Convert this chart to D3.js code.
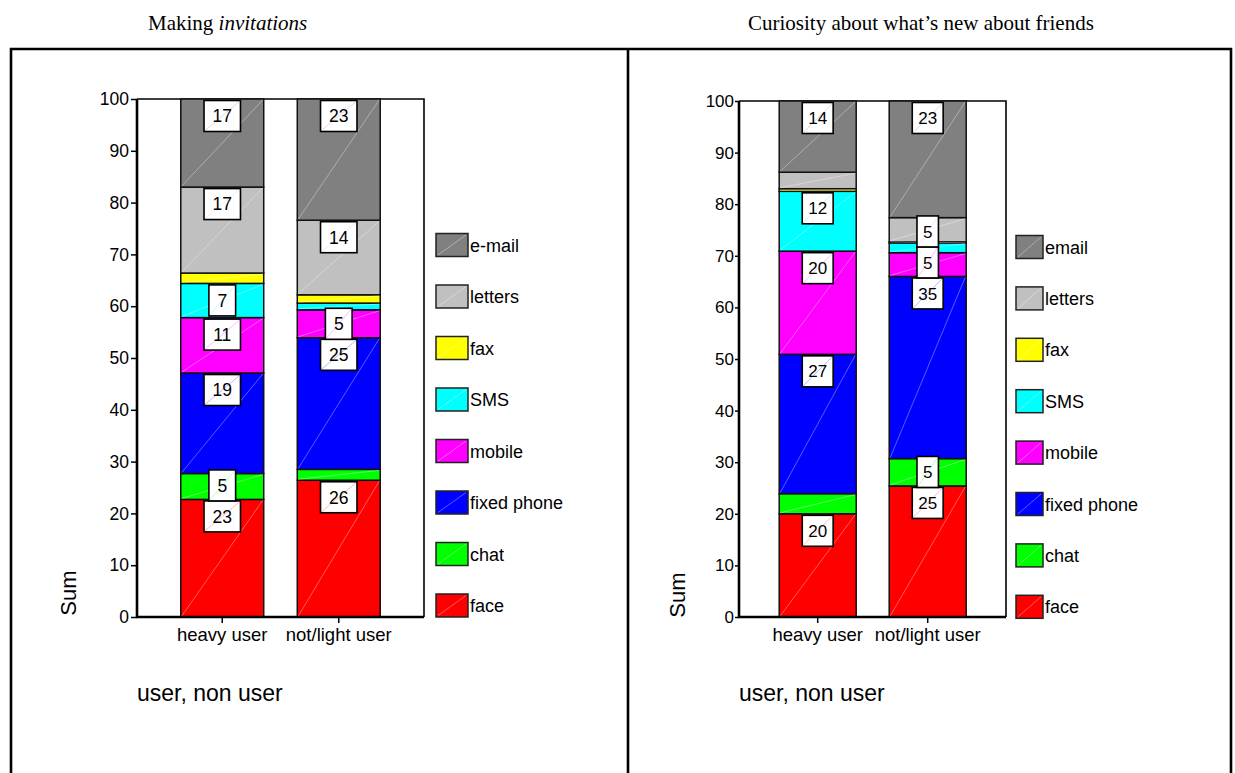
<!DOCTYPE html>
<html>
<head>
<meta charset="utf-8">
<script src="https://cdn.jsdelivr.net/npm/d3@7"></script>
<style>
  html, body { margin: 0; padding: 0; background: #fff; }
  svg { display: block; }
  text { font-family: "Liberation Sans", Arial, sans-serif; fill: #000; }
  .title { font-family: "Liberation Serif", "Times New Roman", serif; font-size: 21px; }
</style>
</head>
<body>
<svg id="chart" width="1235" height="773"></svg>
<script>
// Categories on the x axis
const categories = ["heavy user", "not/light user"];

// Series, stacked from the bottom up
const seriesInvitations = ["face", "chat", "fixed phone", "mobile", "SMS", "fax", "letters", "e-mail"];
const seriesCuriosity   = ["face", "chat", "fixed phone", "mobile", "SMS", "fax", "letters", "email"];
const seriesColors = ["#ff0000", "#00ff00", "#0000ff", "#ff00ff", "#00ffff", "#ffff00", "#c0c0c0", "#808080"];

// Percent shares per category (same order as the series)
const invitationsHeavy = [22.7, 5.0, 19.4, 10.7, 6.6, 2.0, 16.6, 17.0];
const invitationsLight = [26.4, 2.1, 25.4, 5.4, 1.3, 1.6, 14.4, 23.4];
const curiosityHeavy   = [20.0, 3.9, 27.0, 20.0, 11.6, 0.5, 3.2, 13.8];
const curiosityLight   = [25.4, 5.3, 35.3, 4.6, 1.9, 0.2, 4.7, 22.6];

// Axis ticks
const yTicks = [0, 10, 20, 30, 40, 50, 60, 70, 80, 90, 100];

const svg = d3.select("#chart");

// Outer frame with the two panels
const frameTop = 49;
svg.append("path")
  .attr("d", `M11,800 V${frameTop} H1231 V800 M628,${frameTop} V800`)
  .attr("fill", "none").attr("stroke", "#000").attr("stroke-width", 2.6);

// Panel titles
const t1 = svg.append("text").attr("class", "title").attr("x", 148).attr("y", 30);
t1.append("tspan").text("Making ");
t1.append("tspan").attr("font-style", "italic").text("invitations");
svg.append("text").attr("class", "title").attr("x", 748).attr("y", 30)
  .text("Curiosity about what\u2019s new about friends");

function drawPanel(cfg) {
  const g = svg.append("g");
  const y = d3.scaleLinear().domain([0, 100]).range([cfg.y0, cfg.y100]);
  const x = d3.scaleBand().domain(categories).range(cfg.bandRange);
  const barW = x.bandwidth() * cfg.barFrac;
  const barX = c => x(c) + (x.bandwidth() - barW) / 2;

  // stacked data
  const rows = categories.map((c, i) => {
    const row = { category: c };
    cfg.series.forEach((s, k) => { row[s] = cfg.values[i][k]; });
    return row;
  });
  const stacked = d3.stack().keys(cfg.series)(rows);

  // plot frame: top and right
  g.append("path")
    .attr("d", `M${cfg.axisX},${y(100)} H${cfg.rightX} V${y(0)}`)
    .attr("fill", "none").attr("stroke", "#000").attr("stroke-width", 1.6);

  // segments
  const segs = [];
  stacked.forEach((layer, k) => {
    layer.forEach((d, i) => {
      segs.push({ k, i, v0: d[0], v1: d[1], value: cfg.values[i][k], cat: categories[i] });
    });
  });
  const segG = g.append("g");
  segG.selectAll("rect").data(segs).join("rect")
    .attr("x", d => barX(d.cat))
    .attr("width", barW)
    .attr("y", d => y(d.v1))
    .attr("height", d => y(d.v0) - y(d.v1))
    .attr("fill", d => seriesColors[d.k])
    .attr("stroke", "#111").attr("stroke-width", 1.5);
  // faint diagonal highlight across each segment
  segG.selectAll("line").data(segs).join("line")
    .attr("x1", d => barX(d.cat) + 1)
    .attr("x2", d => barX(d.cat) + barW - 1)
    .attr("y1", d => y(d.v0) - 1)
    .attr("y2", d => y(d.v1) + 1)
    .attr("stroke", "#fff").attr("stroke-opacity", 0.45).attr("stroke-width", 0.8);

  // y axis
  const yAxis = d3.axisLeft(y).tickValues(yTicks).tickSize(cfg.tickLen).tickSizeOuter(0).tickPadding(cfg.tickPad);
  const ya = g.append("g").attr("transform", `translate(${cfg.axisX},0)`).call(yAxis);
  ya.select(".domain").remove();
  ya.selectAll(".tick line").attr("stroke", "#000").attr("stroke-width", 1.5);
  ya.selectAll(".tick text").attr("font-size", cfg.tickFont).attr("font-family", "Liberation Sans, Arial, sans-serif").attr("fill", "#000");

  // x axis
  const xAxis = d3.axisBottom(x).tickSize(6).tickSizeOuter(0).tickPadding(5);
  const xa = g.append("g").attr("transform", `translate(0,${cfg.y0})`).call(xAxis);
  xa.select(".domain").remove();
  xa.selectAll(".tick line").attr("stroke", "#000").attr("stroke-width", 1.5);
  xa.selectAll(".tick text").attr("font-size", cfg.catFont).attr("font-family", "Liberation Sans, Arial, sans-serif").attr("fill", "#000");

  // axis lines
  g.append("path")
    .attr("d", `M${cfg.axisX},${y(100)} V${y(0)} H${cfg.rightX}`)
    .attr("fill", "none").attr("stroke", "#000").attr("stroke-width", 2.6);

  // value labels: white boxes at the top of each segment, pushed up when they collide
  const labG = g.append("g");
  categories.forEach((c, i) => {
    let prevTop = Infinity;
    cfg.series.forEach((s, k) => {
      const v = cfg.values[i][k];
      if (v < 4.5) return;
      const seg = segs.find(d => d.i === i && d.k === k);
      const txt = d3.format(".0f")(v);
      const tw = txt.length * 0.556 * cfg.labelFont;
      const bw = tw + cfg.labelPad * 2;
      const bh = cfg.boxH;
      let top = y(seg.v1) + 1.5;
      if (top + bh > prevTop) top = prevTop - bh;
      prevTop = top;
      const cx = x(c) + x.bandwidth() / 2;
      labG.append("rect")
        .attr("x", cx - bw / 2).attr("y", top).attr("width", bw).attr("height", bh)
        .attr("fill", "#fff").attr("stroke", "#000").attr("stroke-width", 1.6);
      labG.append("line")
        .attr("x1", cx - bw / 2 + 1).attr("y1", top + bh - 1)
        .attr("x2", cx + bw / 2 - 1).attr("y2", top + 1)
        .attr("stroke", seriesColors[k]).attr("stroke-opacity", 0.35).attr("stroke-width", 0.8);
      labG.append("text")
        .attr("x", cx).attr("y", top + bh / 2 + cfg.labelFont * 0.36)
        .attr("text-anchor", "middle").attr("font-size", cfg.labelFont)
        .text(txt);
    });
  });

  // legend, top entry is the last series
  const legend = g.append("g");
  const items = cfg.series.slice().reverse();
  items.forEach((s, j) => {
    const k = cfg.series.length - 1 - j;
    const cy = cfg.legendY0 + j * cfg.legendStep;
    legend.append("rect")
      .attr("x", cfg.legendX).attr("y", cy - 11.5).attr("width", cfg.swatchW).attr("height", 23)
      .attr("fill", seriesColors[k]).attr("stroke", "#222").attr("stroke-width", 1.5);
    legend.append("line")
      .attr("x1", cfg.legendX + 2).attr("y1", cy + 10).attr("x2", cfg.legendX + cfg.swatchW - 2).attr("y2", cy - 10)
      .attr("stroke", "#fff").attr("stroke-opacity", 0.45).attr("stroke-width", 0.8);
    legend.append("text")
      .attr("x", cfg.legendX + cfg.swatchW + 2).attr("y", cy + 6.5)
      .attr("font-size", 18).text(s);
  });

  // axis titles
  g.append("text")
    .attr("transform", `translate(${cfg.sumX},${cfg.sumY}) rotate(-90)`)
    .attr("text-anchor", "middle").attr("font-size", 22).text("Sum");
  g.append("text")
    .attr("x", cfg.axisX).attr("y", 701)
    .attr("font-size", 23).text("user, non user");
}

drawPanel({
  series: seriesInvitations,
  values: [invitationsHeavy, invitationsLight],
  axisX: 137, rightX: 424, y0: 617, y100: 99,
  bandRange: [164, 397], barFrac: 0.712,
  tickLen: 6, tickPad: 2, tickFont: 17.5, catFont: 18.5,
  labelFont: 17.5, labelPad: 8.5, boxH: 31,
  legendX: 436, swatchW: 32, legendY0: 245, legendStep: 51.5,
  sumX: 76, sumY: 593
});

drawPanel({
  series: seriesCuriosity,
  values: [curiosityHeavy, curiosityLight],
  axisX: 739, rightX: 1006, y0: 617, y100: 101,
  bandRange: [762.7, 982.7], barFrac: 0.7,
  tickLen: 4, tickPad: 1, tickFont: 17, catFont: 18.5,
  labelFont: 17, labelPad: 6, boxH: 31,
  legendX: 1016, swatchW: 27, legendY0: 247, legendStep: 51.4,
  sumX: 685, sumY: 595
});
</script>
</body>
</html>
